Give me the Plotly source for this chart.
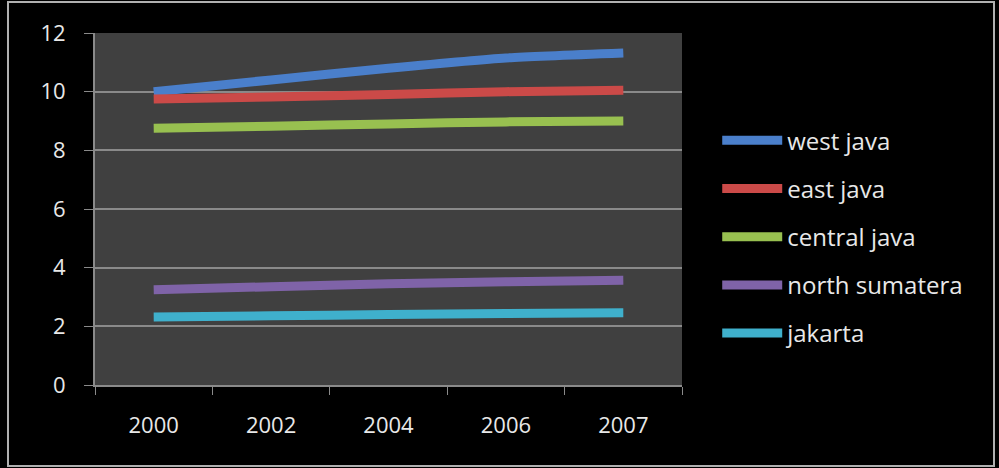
import plotly.graph_objects as go

years = ["2000", "2002", "2004", "2006", "2007"]
west_java = [10.0, 10.4, 10.8, 11.15, 11.32]
east_java = [9.75, 9.82, 9.9, 10.0, 10.05]
central_java = [8.75, 8.82, 8.9, 8.97, 9.0]
north_sumatera = [3.25, 3.35, 3.45, 3.52, 3.57]
jakarta = [2.32, 2.36, 2.4, 2.44, 2.46]

series = [
    ("west java", west_java, "#4a7fcb"),
    ("east java", east_java, "#cb4a48"),
    ("central java", central_java, "#98c050"),
    ("north sumatera", north_sumatera, "#7f63a8"),
    ("jakarta", jakarta, "#3fb0cc"),
]

fig = go.Figure()
for name, vals, col in series:
    fig.add_trace(go.Scatter(
        x=years, y=vals, name=name, mode="lines",
        line=dict(color=col, width=9, shape="spline", smoothing=0.5),
        legendgroup=name,
    ))

font = "'Open Sans', sans-serif"
fig.update_layout(
    width=999, height=468,
    paper_bgcolor="#000000", plot_bgcolor="#404040",
    margin=dict(l=95, r=317, t=33, b=83),
    font=dict(family=font, color="#e8e8e8", size=22),
    showlegend=True,
    legend=dict(
        x=1.06, y=0.758, xanchor="left", yanchor="top",
        bgcolor="rgba(0,0,0,0)", font=dict(size=24, color="#e8e8e8"),
        itemwidth=60, tracegroupgap=14, traceorder="grouped",
    ),
    xaxis=dict(
        type="category", range=[-0.5, 4.5], tickson="boundaries",
        ticks="outside", ticklen=8, tickcolor="#8a8a8a",
        showline=True, linecolor="#8a8a8a", linewidth=2,
        showgrid=False, zeroline=False, tickfont=dict(size=22),
        ticklabelstandoff=20,
    ),
    yaxis=dict(
        range=[0, 12], dtick=2, ticks="outside", ticklen=9, tickcolor="#8a8a8a",
        showline=True, linecolor="#8a8a8a", linewidth=2,
        showgrid=True, gridcolor="#8a8a8a", gridwidth=2, zeroline=False,
        tickfont=dict(size=22), ticklabelstandoff=14,
    ),
    shapes=[dict(
        type="rect", xref="paper", yref="paper",
        x0=(8 - 95) / 587, x1=(994 - 95) / 587,
        y0=(385 - 466) / 352, y1=(385 - 2) / 352,
        line=dict(color="#b0b0b0", width=2), layer="below",
    )],
)

fig.write_html("out.html")
